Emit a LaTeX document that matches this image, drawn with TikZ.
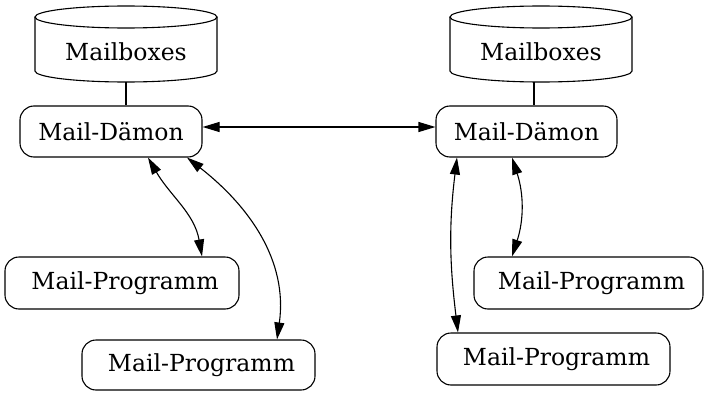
\documentclass[tikz,border=0pt]{standalone}
\usepackage{fontspec}
\setmainfont{DejaVu Serif}
\usetikzlibrary{arrows.meta,calc}

\tikzset{
  lbl/.style={font=\fontsize{23.5}{28}\selectfont, inner sep=0pt},
  proc/.style={draw, line width=1.1pt, rounded corners=14pt, minimum height=51pt,
               font=\fontsize{23.5}{28}\selectfont, inner sep=0pt},
  link/.style={line width=1.1pt},
  both/.style={line width=1.1pt, {Triangle[length=17pt,width=10pt]}-{Triangle[length=17pt,width=10pt]}},
}

% cylinder drawn around a named anchor node: top/bottom ellipse centres given relative to it
\newcommand{\drumshape}[1]{%
  \draw[link] ($(#1.center)+(-91,35)$) -- ($(#1.center)+(-91,-19)$)
     arc[start angle=180,end angle=360,x radius=91,y radius=11]
     -- ($(#1.center)+(91,35)$);
  \draw[link] ($(#1.center)+(0,35)$) ellipse[x radius=91,y radius=11];
}

\begin{document}
\begin{tikzpicture}[x=1pt,y=1pt]
\useasboundingbox (0,0) rectangle (704,392);

% mail stores
\node[lbl, minimum width=182pt, minimum height=76pt] (mbL) at (126,340) {Mailboxes};
\node[lbl, minimum width=182pt, minimum height=76pt] (mbR) at (541,340) {Mailboxes};
\drumshape{mbL}
\drumshape{mbR}

% daemons
\node[proc, minimum width=182pt] (dL) at (111,260.5) {Mail-Dämon};
\node[proc, minimum width=181pt] (dR) at (526.5,260.5) {Mail-Dämon};

% client programs
\node[proc, minimum width=234pt, minimum height=52pt] (pL1) at (122,109) {\hspace{6pt}Mail-Programm};
\node[proc, minimum width=233pt, minimum height=50pt] (pL2) at (198.5,27) {\hspace{6pt}Mail-Programm};
\node[proc, minimum width=229pt, minimum height=52pt] (pR1) at (588.5,109) {\hspace{6pt}Mail-Programm};
\node[proc, minimum width=233pt, minimum height=52pt] (pR2) at (553.5,33) {\hspace{6pt}Mail-Programm};

% store to daemon
\draw[link] ($(mbL.center)+(0,-30)$) -- (mbL.center |- dL.north);
\draw[link] ($(mbR.center)+(-7,-30)$) -- ($(mbR.center |- dR.north)+(-7,0)$);

% daemon to daemon
\draw[both] ([yshift=4.5pt]dL.east) -- ([yshift=4.5pt]dR.east -| dR.west);

% daemons to programs
\draw[both] ([xshift=37pt]dL.south) to[out=-60,in=100] ([xshift=80pt]pL1.north);
\draw[both] ([xshift=76pt]dL.south) to[out=-38,in=82] ([xshift=78.5pt]pL2.north);
\draw[both] ([xshift=-69.5pt]dR.south) to[out=-97,in=97] ([xshift=-95.5pt]pR2.north);
\draw[both] ([xshift=-14.5pt]dR.south) to[out=-72,in=72] ([xshift=-76.5pt]pR1.north);
\end{tikzpicture}
\end{document}
